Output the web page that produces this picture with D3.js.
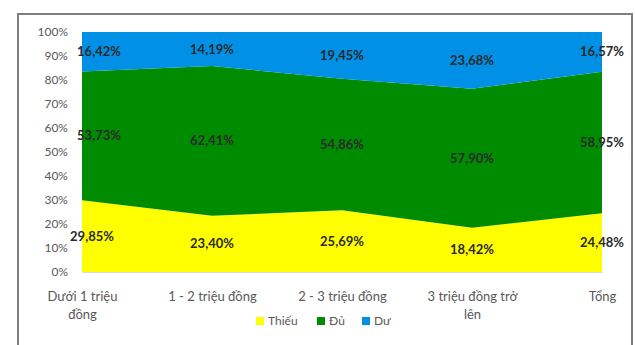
<!DOCTYPE html>
<html>
<head>
<meta charset="utf-8">
<script src="https://cdn.jsdelivr.net/npm/d3@7/dist/d3.min.js"></script>
<style>
  html, body { margin: 0; padding: 0; background: #fff; }
  svg { display: block; font-family: Lato, "Open Sans", sans-serif; }
</style>
</head>
<body>
<svg id="chart" width="635" height="345"></svg>
<script>
// Income groups along the x axis
const categories = ["Dưới 1 triệu đồng", "1 - 2 triệu đồng", "2 - 3 triệu đồng", "3 triệu đồng trở lên", "Tổng"];
// Share of respondents (%) per group, stacked bottom to top
const thieu = [29.85, 23.40, 25.69, 18.42, 24.48];
const du    = [53.73, 62.41, 54.86, 57.90, 58.95];
const duThua = [16.42, 14.19, 19.45, 23.68, 16.57];
const seriesNames = ["Thiếu", "Đủ", "Dư"];
const seriesColors = ["#ffff00", "#008c00", "#0090e6"];
const yTicks = [0, 10, 20, 30, 40, 50, 60, 70, 80, 90, 100];

const svg = d3.select("#chart");

// Outer chart frame
svg.append("rect")
  .attr("x", 18).attr("y", 14)
  .attr("width", 614).attr("height", 360)
  .attr("fill", "#fff")
  .attr("stroke", "#7f7f7f").attr("stroke-width", 2);

const plot = { left: 82, right: 602, top: 32, bottom: 272 };

const x = d3.scalePoint().domain(categories).range([plot.left, plot.right]);
const y = d3.scaleLinear().domain([0, 100]).range([plot.bottom, plot.top]);

const rows = categories.map((c, i) => ({ cat: c, "Thiếu": thieu[i], "Đủ": du[i], "Dư": duThua[i] }));
const stacked = d3.stack().keys(seriesNames)(rows);

const area = d3.area()
  .x(d => x(d.data.cat))
  .y0(d => y(d[0]))
  .y1(d => y(d[1]));

svg.append("g").selectAll("path")
  .data(stacked)
  .join("path")
  .attr("d", area)
  .attr("fill", (d, i) => seriesColors[i]);

// Value labels centred in each band
const fmt = v => v.toFixed(2).replace(".", ",") + "%";
stacked.forEach(s => {
  svg.append("g").selectAll("text")
    .data(s)
    .join("text")
    .attr("x", (d, i) => x(d.data.cat) + (i === 0 ? (s.key === "Thiếu" ? 10 : 17) : 0))
    .attr("y", d => y((d[0] + d[1]) / 2))
    .attr("dy", "0.35em")
    .attr("text-anchor", "middle")
    .attr("font-size", 13)
    .attr("font-weight", 700)
    .attr("fill", "#2a2a2a")
    .text(d => fmt(d[1] - d[0]));
});

// Y axis
const yAxis = svg.append("g")
  .attr("transform", `translate(${plot.left},0)`)
  .call(d3.axisLeft(y).tickValues(yTicks).tickFormat(d => d + "%").tickSize(0).tickPadding(14));
yAxis.select(".domain").remove();
yAxis.selectAll("text").attr("font-size", 12).attr("fill", "#595959").style("font-family", "Lato, sans-serif");

// X axis
const xAxis = svg.append("g")
  .attr("transform", `translate(0,${plot.bottom})`)
  .call(d3.axisBottom(x).tickSize(0).tickPadding(20));
xAxis.select(".domain").attr("stroke", "#d9d9d9");
xAxis.selectAll("text")
  .attr("font-size", 13).attr("fill", "#595959").style("font-family", "Lato, sans-serif")
  .each(function (d) { wrap(d3.select(this), 97); });

function wrap(text, width) {
  const words = text.text().split(/\s+/);
  const yAttr = text.attr("y");
  const dy = parseFloat(text.attr("dy")) || 0;
  text.text(null);
  let line = [];
  let lineNo = 0;
  let tspan = text.append("tspan").attr("x", 0).attr("y", yAttr).attr("dy", dy + "em");
  words.forEach(w => {
    line.push(w);
    tspan.text(line.join(" "));
    if (tspan.node().getComputedTextLength() > width && line.length > 1) {
      line.pop();
      tspan.text(line.join(" "));
      line = [w];
      lineNo++;
      tspan = text.append("tspan").attr("x", 0).attr("y", yAttr)
        .attr("dy", (dy + lineNo * 1.4) + "em").text(w);
    }
  });
}

// Legend
const legend = svg.append("g").attr("transform", "translate(256,321)");
const legendX = [0, 61, 106];
seriesNames.forEach((name, i) => {
  const g = legend.append("g").attr("transform", `translate(${legendX[i]},0)`);
  g.append("rect").attr("x", 0).attr("y", -4).attr("width", 8).attr("height", 8).attr("fill", seriesColors[i]);
  g.append("text").attr("x", 12).attr("y", 0).attr("dy", "0.35em")
    .attr("font-size", 12).attr("fill", "#595959").text(name);
});
</script>
</body>
</html>
